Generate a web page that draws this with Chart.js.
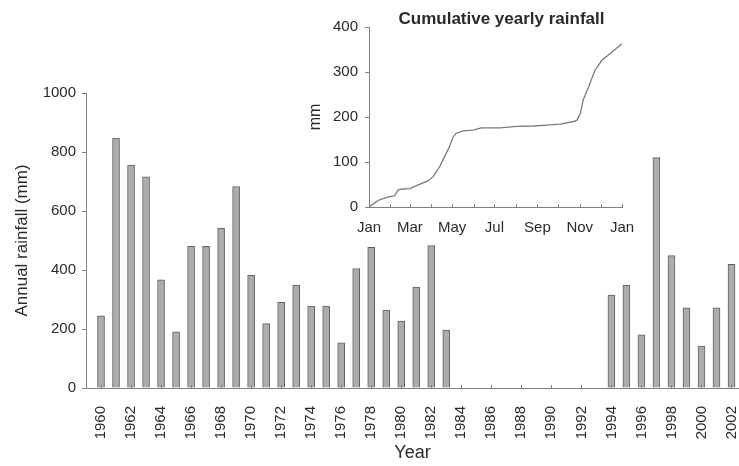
<!DOCTYPE html>
<html>
<head>
<meta charset="utf-8">
<script src="https://cdn.jsdelivr.net/npm/chart.js@4.4.0/dist/chart.umd.min.js"></script>
<style>
  body { margin: 0; background: #fff; }
  #wrap { position: relative; width: 739px; height: 466px; }
  #mainChart { position: absolute; left: 0; top: 0; }
  #insetChart { position: absolute; left: 290px; top: 0; }
</style>
</head>
<body>
<div id="wrap">
  <canvas id="mainChart" width="739" height="466"></canvas>
  <canvas id="insetChart" width="422" height="240"></canvas>
</div>
<script>
// annual rainfall, 1984-1993 missing
var years = [1960, 1961, 1962, 1963, 1964, 1965, 1966, 1967, 1968, 1969,
  1970, 1971, 1972, 1973, 1974, 1975, 1976, 1977, 1978, 1979,
  1980, 1981, 1982, 1983, 1984, 1985, 1986, 1987, 1988, 1989,
  1990, 1991, 1992, 1993, 1994, 1995, 1996, 1997, 1998, 1999,
  2000, 2001, 2002];
var rainfall = [245, 847, 756, 716, 367, 190, 480, 480, 541, 683,
  382, 218, 290, 349, 278, 278, 153, 405, 477, 264,
  227, 342, 483, 196, null, null, null, null, null, null,
  null, null, null, null, 315, 348, 180, 781, 449, 272,
  142, 272, 419];
var yearTicks = [1960, 1962, 1964, 1966, 1968, 1970, 1972, 1974, 1976, 1978, 1980,
  1982, 1984, 1986, 1988, 1990, 1992, 1994, 1996, 1998, 2000, 2002];

// inset: cumulative rainfall through the year (day of year, mm)
var days = [0, 6, 15, 27, 37, 42, 49, 59, 71, 85, 93, 102, 109, 116, 121, 126, 136, 150,
  162, 189, 213, 237, 256, 276, 295, 300, 305, 309, 317, 326, 336, 348, 365];
var cumulative = [0, 7, 16, 22, 25, 38, 40, 41, 49, 58, 68, 90, 112, 134, 155, 164, 169, 171,
  176, 176, 179, 180, 182, 184, 190, 193, 208, 238, 267, 304, 326, 341, 363];
var monthStarts = [0, 31, 59, 90, 120, 151, 181, 212, 243, 273, 304, 334, 365];
var monthLabels = ['Jan', '', 'Mar', '', 'May', '', 'Jul', '', 'Sep', '', 'Nov', '', 'Jan'];

var fontFam = '"Liberation Sans", Arial, sans-serif';
var axisCol = '#808080';
var textCol = '#2a2a2a';

// small tick marks pointing up into the plot
var innerTicks = {
  id: 'innerTicks',
  afterDraw(chart, args, opts) {
    var sc = chart.scales.x;
    var ctx = chart.ctx;
    ctx.save();
    ctx.strokeStyle = opts.color;
    ctx.lineWidth = 1;
    sc.ticks.forEach(t => {
      var px = Math.round(sc.getPixelForValue(t.value)) + 0.5;
      ctx.beginPath();
      ctx.moveTo(px, sc.top);
      ctx.lineTo(px, sc.top - opts.len);
      ctx.stroke();
    });
    ctx.restore();
  }
};

var insetTitle = {
  id: 'insetTitle',
  afterDraw(chart, args, opts) {
    var ctx = chart.ctx;
    var a = chart.chartArea;
    ctx.save();
    ctx.font = 'bold 17px ' + fontFam;
    ctx.fillStyle = textCol;
    ctx.textAlign = 'center';
    ctx.textBaseline = 'middle';
    ctx.fillText(opts.text, (a.left + a.right) / 2 + 6, 19);
    ctx.restore();
  }
};

new Chart(document.getElementById('mainChart'), {
  type: 'bar',
  data: {
    datasets: [{
      data: years.map((y, i) => ({ x: y, y: rainfall[i] })),
      backgroundColor: '#acacac',
      borderColor: '#606060',
      borderWidth: 1,
      barThickness: 7,
    }],
  },
  plugins: [innerTicks],
  options: {
    responsive: false,
    animation: false,
    layout: { padding: { top: 93, right: 0, bottom: 0, left: 0 } },
    plugins: {
      legend: { display: false },
      tooltip: { enabled: false },
      innerTicks: { color: axisCol, len: 3 },
    },
    scales: {
      x: {
        type: 'linear',
        offset: false,
        min: 1959,
        max: 2002.5,
        afterBuildTicks: (sc) => { sc.ticks = yearTicks.map(v => ({ value: v })); },
        afterFit: (sc) => { sc.height = 78; sc.paddingLeft = 0; sc.paddingRight = 0; },
        grid: { display: false },
        border: { display: true, color: axisCol, width: 1 },
        ticks: {
          autoSkip: false,
          minRotation: 90,
          maxRotation: 90,
          padding: 10,
          color: textCol,
          font: { family: fontFam, size: 15 },
          callback: (v) => String(v),
        },
        title: {
          display: true,
          text: 'Year',
          color: textCol,
          font: { family: fontFam, size: 18 },
          padding: { top: 4, bottom: 2 },
        },
      },
      y: {
        min: 0,
        max: 1000,
        afterFit: (sc) => { sc.width = 86; },
        grid: { drawOnChartArea: false, drawTicks: true, tickLength: 4, color: axisCol },
        border: { display: true, color: axisCol, width: 1 },
        ticks: {
          stepSize: 200,
          padding: 6,
          color: textCol,
          font: { family: fontFam, size: 15 },
          callback: (v) => String(v),
        },
        title: {
          display: true,
          text: 'Annual rainfall (mm)',
          color: textCol,
          font: { family: fontFam, size: 17 },
          padding: { top: 12, bottom: 0 },
        },
      },
    },
  },
});

new Chart(document.getElementById('insetChart'), {
  type: 'scatter',
  data: {
    datasets: [{
      data: days.map((d, i) => ({ x: d, y: cumulative[i] })),
      showLine: true,
      borderColor: '#7a7a7a',
      borderWidth: 1.3,
      pointRadius: 0,
      tension: 0,
    }],
  },
  plugins: [innerTicks, insetTitle],
  options: {
    responsive: false,
    animation: false,
    layout: { padding: { top: 27, right: 90, bottom: 0, left: 0 } },
    plugins: {
      legend: { display: false },
      tooltip: { enabled: false },
      innerTicks: { color: axisCol, len: 3 },
      insetTitle: { text: 'Cumulative yearly rainfall' },
    },
    scales: {
      x: {
        type: 'linear',
        min: 0,
        max: 365,
        afterBuildTicks: (sc) => { sc.ticks = monthStarts.map(v => ({ value: v })); },
        afterFit: (sc) => { sc.height = 33; sc.paddingLeft = 0; sc.paddingRight = 0; },
        grid: { display: false },
        border: { display: true, color: axisCol, width: 1 },
        ticks: {
          autoSkip: false,
          maxRotation: 0,
          padding: 4,
          color: textCol,
          font: { family: fontFam, size: 15 },
          callback: (v, i) => monthLabels[i],
        },
      },
      y: {
        min: 0,
        max: 400,
        afterFit: (sc) => { sc.width = 79; },
        grid: { drawOnChartArea: false, drawTicks: true, tickLength: 4, color: axisCol },
        border: { display: true, color: axisCol, width: 1 },
        ticks: {
          stepSize: 100,
          padding: 7,
          color: textCol,
          font: { family: fontFam, size: 15 },
        },
        title: {
          display: true,
          text: 'mm',
          color: textCol,
          font: { family: fontFam, size: 16 },
          padding: { top: 16, bottom: 0 },
        },
      },
    },
  },
});
</script>
</body>
</html>
